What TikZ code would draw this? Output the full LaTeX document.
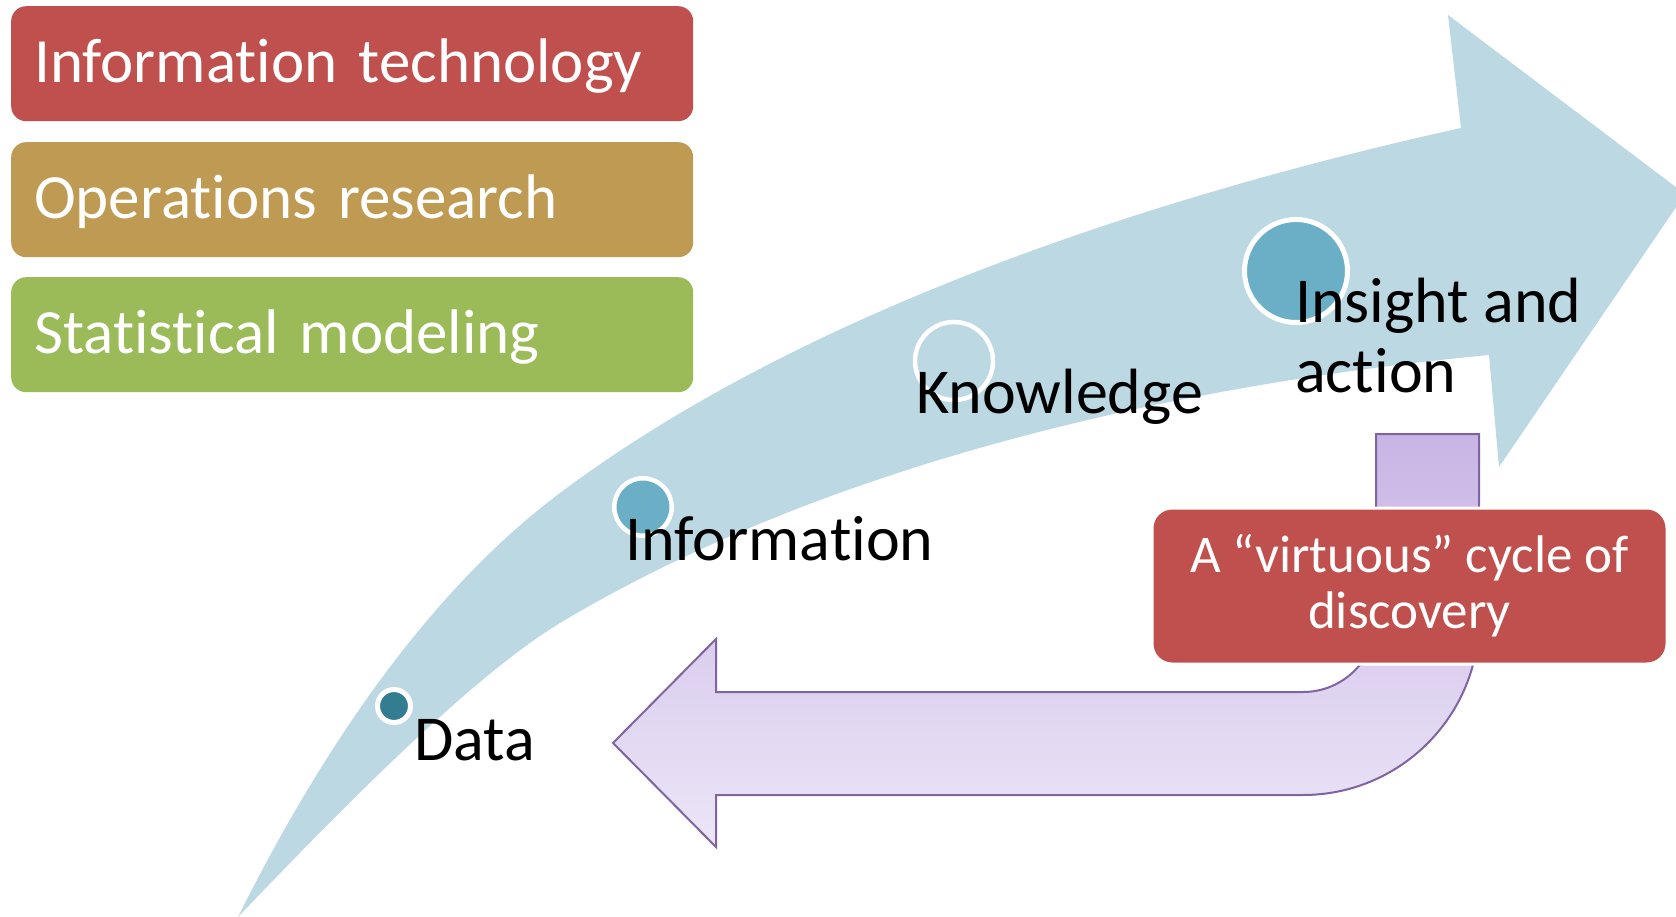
\documentclass[tikz,border=0pt]{standalone}
\usepackage{fontspec}
\setmainfont{Carlito}[Ligatures={NoCommon,NoContextual}]
\definecolor{itred}{RGB}{192,80,77}
\definecolor{orgold}{RGB}{190,154,82}
\definecolor{smgreen}{RGB}{155,187,89}
\definecolor{arrowblue}{RGB}{188,216,226}
\definecolor{dotmid}{RGB}{107,175,198}
\definecolor{dotdark}{RGB}{52,125,145}
\definecolor{purpline}{RGB}{128,100,162}
\definecolor{purptop}{RGB}{201,181,229}
\definecolor{purpbot}{RGB}{236,230,247}
\begin{document}
\begin{tikzpicture}[x=1pt,y=-1pt,
  fieldbox/.style={draw=none, rounded corners=15pt, minimum width=682pt, minimum height=115pt,
    inner xsep=23pt, inner ysep=0pt, text width=636pt, text=white,
    text height=37pt, text depth=0pt, font=\fontsize{63}{70}\selectfont, anchor=north west},
  stagelabel/.style={anchor=base west, inner sep=0pt, font=\fontsize{64}{70}\selectfont, text=black},
  stagedot/.style={circle, draw=white, inner sep=0pt},
  cyclebox/.style={rounded corners=20pt, fill=itred, draw=white, line width=3pt,
    minimum width=515pt, minimum height=156pt, text=white, align=center,
    font=\fontsize{53}{56}\selectfont}
]
\clip (0,0) rectangle (1676,917);
\fill[white] (0,0) rectangle (1676,917);

% left boxes
\node[fieldbox, fill=itred] (it) at (11,6) {Information technology};
\node[fieldbox, fill=orgold] (or) at (11,142) {Operations research};
\node[fieldbox, fill=smgreen] (sm) at (11,277) {Statistical modeling};

% blue curved arrow
\fill[arrowblue] (238,917) .. controls (318.5,756) and (424,595) .. (560,493)
  .. controls (800,313) and (1149,197) .. (1461,128)
  -- (1448,15) -- (1685,194) -- (1499,467) -- (1489,355)
  .. controls (1161,386) and (817,469) .. (560,623)
  .. controls (466,680) and (328,823) .. (238,917) -- cycle;

% stage dots
\node[stagedot, fill=dotdark, line width=5pt, minimum size=33pt] (d1) at (394,706) {};
\node[stagedot, fill=dotmid, line width=4.5pt, minimum size=57.5pt] (d2) at (643,507) {};
\node[stagedot, line width=4.5pt, minimum size=78pt] (d3) at (954,361) {};
\node[stagedot, fill=dotmid, line width=5pt, minimum size=103pt] (d4) at (1296,271) {};

% stage labels
\node[stagelabel] (ldata) at (414,760) {Data};
\node[stagelabel] (linfo) at (625,560) {Information};
\node[stagelabel] (lknow) at (916,413) {Knowledge};
\node[stagelabel] (lins) at (1295,323) {\vtop{\hbox{Insight and}\hbox{action}}};

% purple U-turn arrow
\shade[top color=purptop, bottom color=purpbot, draw=purpline, line width=2pt, line join=miter]
  (1376,434) -- (1479,434) -- (1479,619) arc[start angle=0, end angle=90, radius=176]
  -- (716,795) -- (716,847) -- (613,743) -- (716,639) -- (716,692) -- (1303,692)
  arc[start angle=90, end angle=0, radius=73] -- cycle;

% cycle box
\node[cyclebox] (cyc) at (1409.5,586) {A “virtuous” cycle of\\discovery};
\end{tikzpicture}
\end{document}
